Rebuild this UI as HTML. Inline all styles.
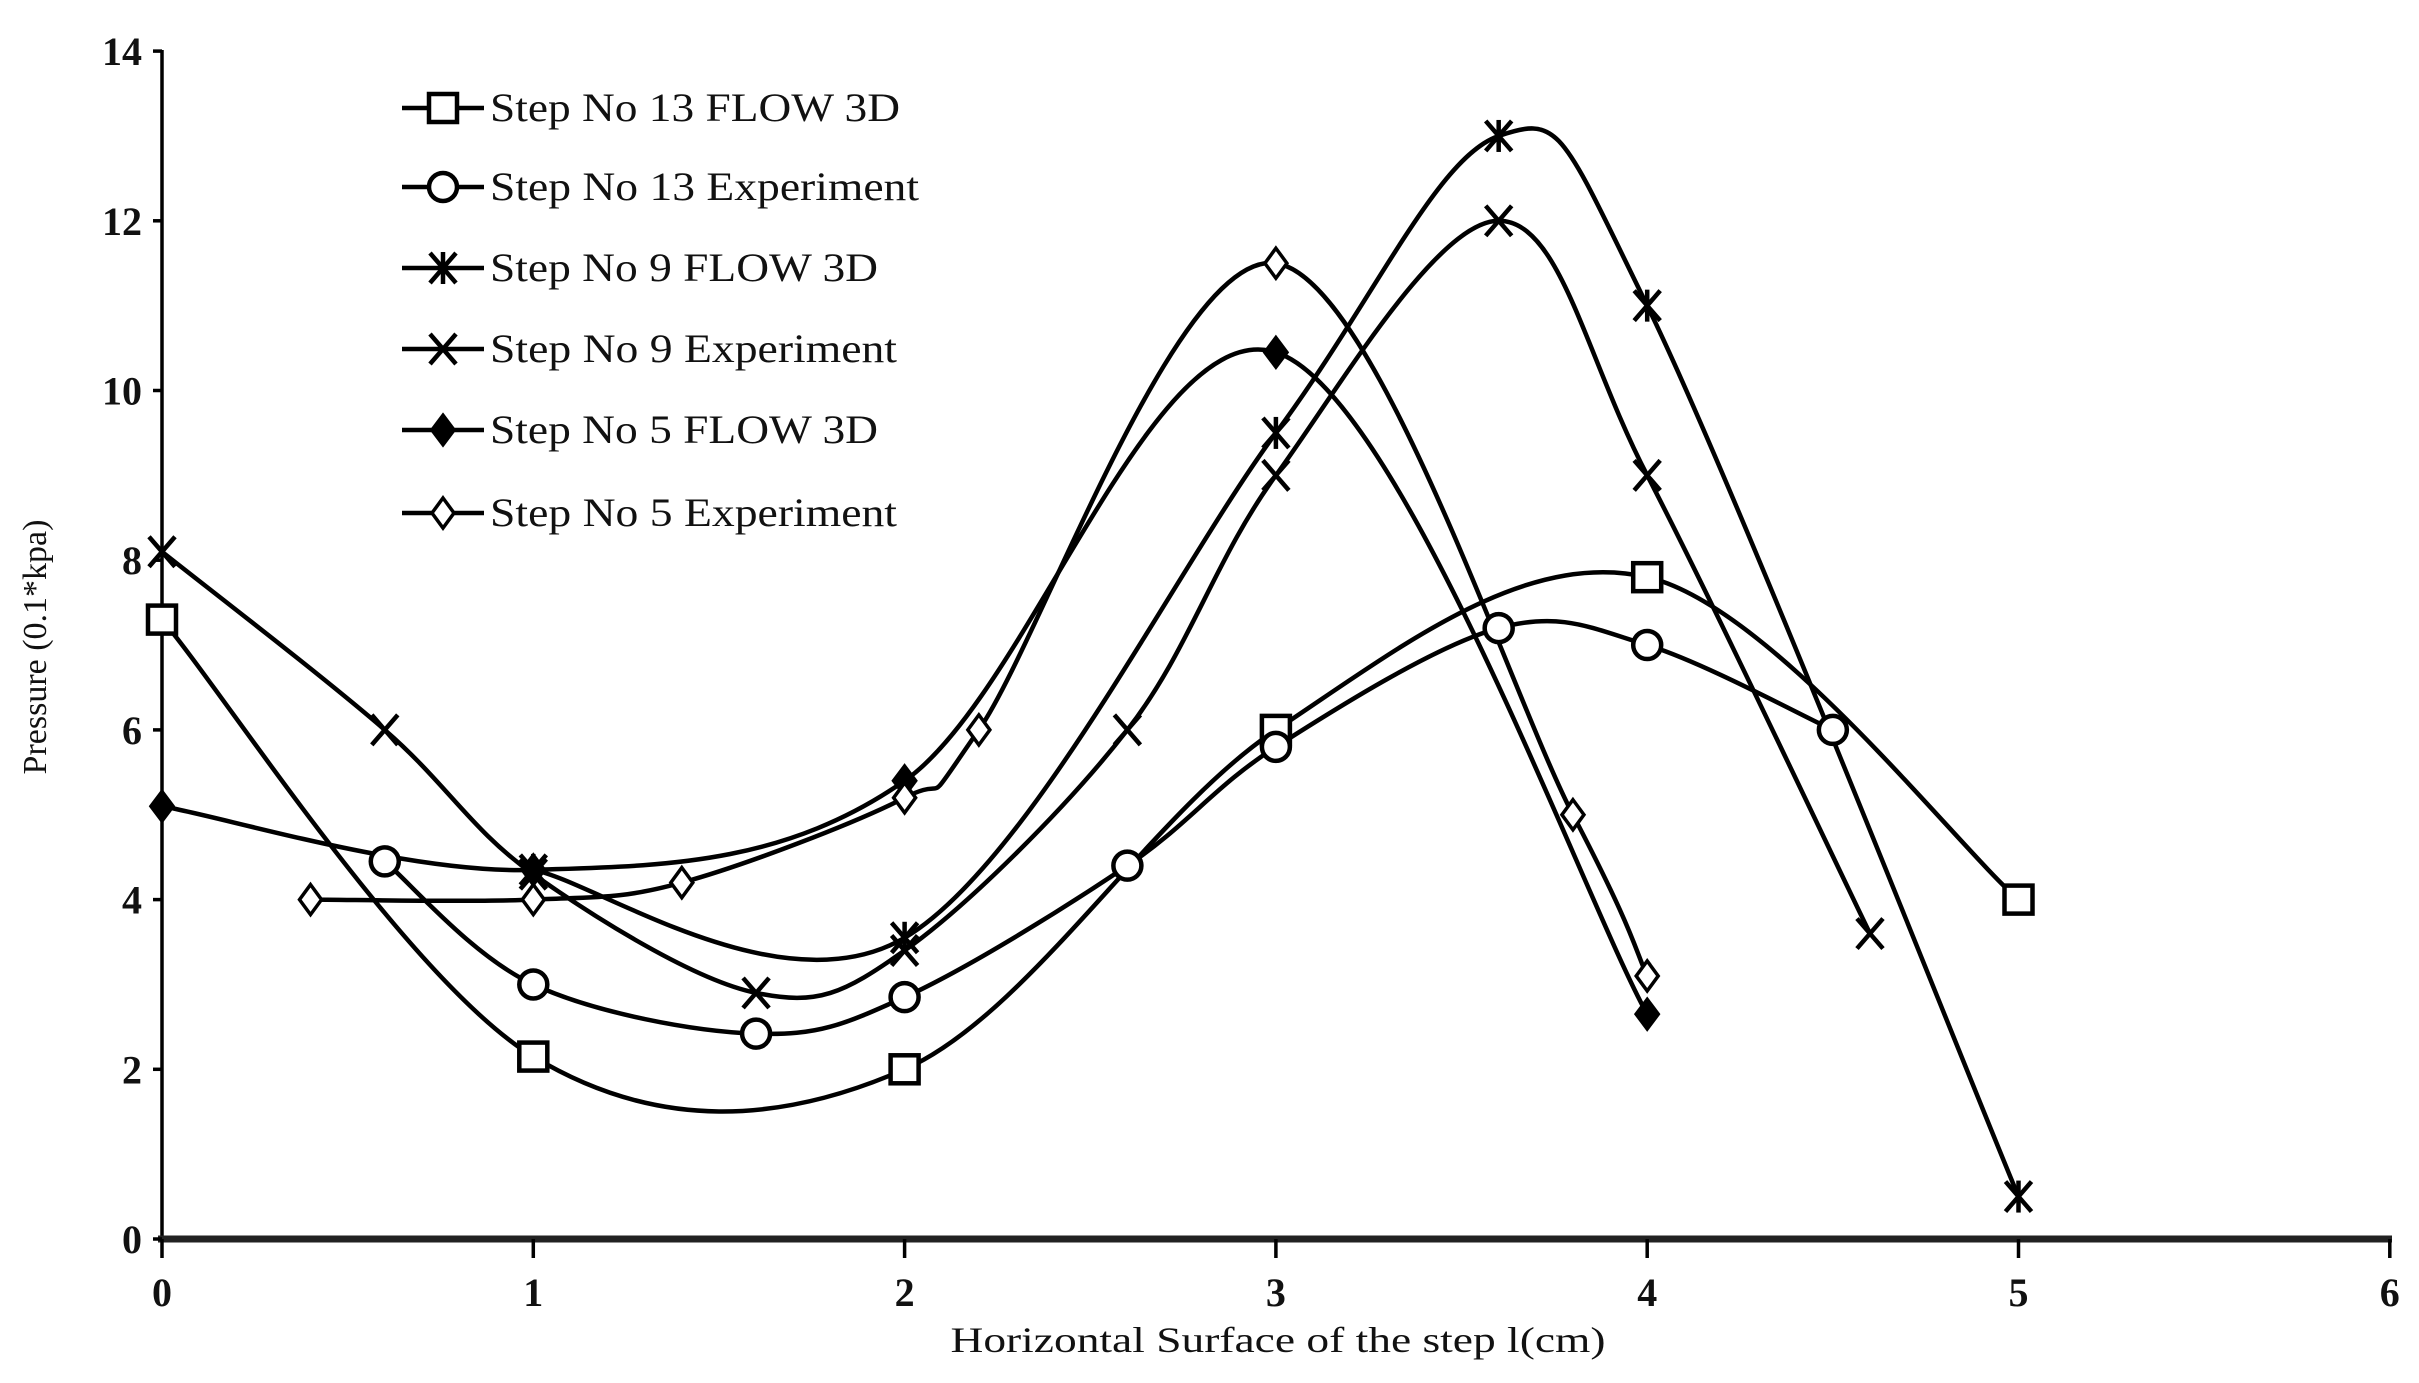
<!DOCTYPE html>
<html><head><meta charset="utf-8"><style>
html,body{margin:0;padding:0;background:#fff;}
svg{display:block;}
text{font-family:"Liberation Serif",serif;fill:#111;}
</style></head><body>
<svg id="s" width="2419" height="1383" viewBox="0 0 2419 1383" xmlns="http://www.w3.org/2000/svg">
<g id="axes" stroke="#000" fill="none">
<line x1="162" y1="50" x2="162" y2="1240" stroke-width="3.5"/>
<line x1="158" y1="1239" x2="2392" y2="1239" stroke-width="7" stroke="#222"/>
</g>
<g id="ticks"></g>
<g id="series" fill="none" stroke="#000" stroke-width="4.5"></g>
<g id="marks"></g>
<g id="legend"></g>
<text x="46" y="647" font-size="34" text-anchor="middle" transform="rotate(-90 46 647)">Pressure (0.1*kpa)</text>
<text x="1278" y="1352" font-size="36" text-anchor="middle" textLength="655" lengthAdjust="spacingAndGlyphs">Horizontal Surface of the step l(cm)</text>
</svg>
<script>
const NS="http://www.w3.org/2000/svg";
const X=v=>162+v*371.3, Y=v=>1239-v*84.85;
function el(p,t,a,txt){const e=document.createElementNS(NS,t);for(const k in a)e.setAttribute(k,a[k]);if(txt!==undefined)e.textContent=txt;document.getElementById(p).appendChild(e);return e;}
for(let i=0;i<=6;i++){el("ticks","line",{x1:X(i),y1:1239,x2:X(i),y2:1258,stroke:"#000","stroke-width":3.5});
 el("ticks","text",{x:X(i),y:1306,"font-size":40,"text-anchor":"middle","font-weight":"bold"},i);}
for(let i=0;i<=14;i+=2){el("ticks","line",{x1:153,y1:Y(i),x2:162,y2:Y(i),stroke:"#000","stroke-width":3.5});
 el("ticks","text",{x:142,y:Y(i)+14,"font-size":40,"text-anchor":"end","font-weight":"bold"},i);}
const S=[
 ["sq",[[0,7.3],[1,2.15],[2,2.0],[3,6.0],[4,7.8],[5,4.0]],"Step No 13 FLOW 3D",410],
 ["ci",[[0.6,4.45],[1,3.0],[1.6,2.42],[2,2.85],[2.6,4.4],[3,5.8],[3.6,7.2],[4,7.0],[4.5,6.0]],"Step No 13 Experiment",429],
 ["as",[[1,4.35],[2,3.55],[3,9.5],[3.6,13.0],[4,11.0],[5,0.5]],"Step No 9 FLOW 3D",388],
 ["x",[[0,8.1],[0.6,6.0],[1,4.3],[1.6,2.9],[2,3.4],[2.6,6.0],[3,9.0],[3.6,12.0],[4,9.0],[4.6,3.6]],"Step No 9 Experiment",407],
 ["fd",[[0,5.1],[1,4.35],[2,5.4],[3,10.45],[4,2.65]],"Step No 5 FLOW 3D",388],
 ["od",[[0.4,4.0],[1,4.0],[1.4,4.2],[2,5.2],[2.2,6.0],[3,11.5],[3.8,5.0],[4,3.1]],"Step No 5 Experiment",407]];
function path(pts){const p=pts.map(q=>[X(q[0]),Y(q[1])]);let d="M"+p[0];const t=1/6;
 for(let i=0;i<p.length-1;i++){const p0=p[Math.max(i-1,0)],p1=p[i],p2=p[i+1],p3=p[Math.min(i+2,p.length-1)];
  const c1=[p1[0]+(p2[0]-p0[0])*t,p1[1]+(p2[1]-p0[1])*t],c2=[p2[0]-(p3[0]-p1[0])*t,p2[1]-(p3[1]-p1[1])*t];
  d+=" C"+c1+" "+c2+" "+p2;}return d;}
function mark(g,k,x,y){const r=14;
 if(k=="sq")el(g,"rect",{x:x-r,y:y-r,width:2*r,height:2*r,fill:"#fff",stroke:"#000","stroke-width":4.5});
 if(k=="ci")el(g,"circle",{cx:x,cy:y,r:r,fill:"#fff",stroke:"#000","stroke-width":4.5});
 if(k=="fd")el(g,"polygon",{points:`${x},${y-16} ${x+12},${y} ${x},${y+16} ${x-12},${y}`,fill:"#000",stroke:"#000","stroke-width":2});
 if(k=="od")el(g,"polygon",{points:`${x},${y-15} ${x+11},${y} ${x},${y+15} ${x-11},${y}`,fill:"#fff",stroke:"#000","stroke-width":3.5});
 if(k=="x"||k=="as"){el(g,"path",{d:`M${x-13},${y-15}L${x+13},${y+15}M${x-13},${y+15}L${x+13},${y-15}`,stroke:"#000","stroke-width":4.5});
  if(k=="as")el(g,"path",{d:`M${x},${y-16}L${x},${y+16}`,stroke:"#000","stroke-width":4.5});}}
const ly=[108,187,268,349,430,513];
S.forEach((s,i)=>{el("series","path",{d:path(s[1])});
 s[1].forEach(q=>mark("marks",s[0],X(q[0]),Y(q[1])));
 el("legend","line",{x1:402,y1:ly[i],x2:484,y2:ly[i],stroke:"#000","stroke-width":4.5});
 mark("legend",s[0],443,ly[i]);
 el("legend","text",{x:490,y:ly[i]+13,"font-size":40,textLength:s[3],lengthAdjust:"spacingAndGlyphs"},s[2]);});
</script>
</body></html>
